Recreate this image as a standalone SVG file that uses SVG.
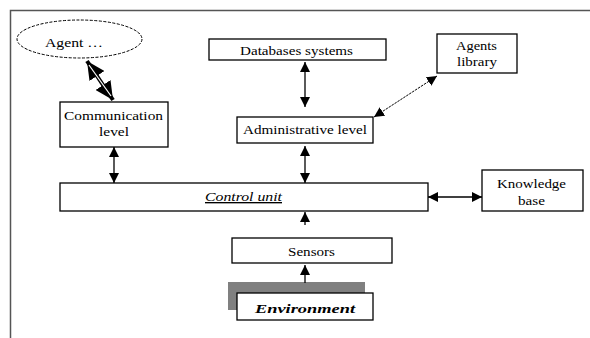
<svg xmlns="http://www.w3.org/2000/svg" width="590" height="338" viewBox="0 0 590 338">
<style>
.box{fill:#fff;stroke:#000;stroke-width:1.3}
.t{font-family:"Liberation Serif","Times New Roman",serif;font-size:13.5px;fill:#000;text-anchor:middle}
.c{stroke:#000;stroke-width:1.3;fill:none}
</style>
<defs>
<marker id="ah" viewBox="0 0 10 10" refX="10" refY="5" markerWidth="10" markerHeight="10" markerUnits="userSpaceOnUse" orient="auto-start-reverse">
<path d="M0,0 L10,5 L0,10 Z" fill="#000"/>
</marker>
<marker id="big" viewBox="0 0 10 10" refX="10" refY="5" markerWidth="18" markerHeight="18" markerUnits="userSpaceOnUse" orient="auto-start-reverse">
<path d="M0,0 L10,5 L0,10 Z" fill="#000"/>
</marker>
</defs>
<rect width="590" height="338" fill="#fff"/>
<path d="M10.5,338 V10.5 H590" fill="none" stroke="#555" stroke-width="1.5"/>

<g id="agent">
<ellipse cx="79.5" cy="39" rx="62.5" ry="19" fill="#fff" stroke="#000" stroke-width="1" stroke-dasharray="3,1.5"/>
<text class="t" x="74" y="47" textLength="58" lengthAdjust="spacingAndGlyphs">Agent …</text>
</g>
<g id="communication">
<rect class="box" x="60" y="102" width="108" height="45"/>
<text class="t" x="113.5" y="120" textLength="99" lengthAdjust="spacingAndGlyphs">Communication</text>
<text class="t" x="114" y="136" textLength="30" lengthAdjust="spacingAndGlyphs">level</text>
</g>
<g id="databases">
<rect class="box" x="209" y="39" width="177" height="21"/>
<text class="t" x="296.5" y="55" textLength="113" lengthAdjust="spacingAndGlyphs">Databases systems</text>
</g>
<g id="agents-library">
<rect class="box" x="437" y="34" width="80" height="39"/>
<text class="t" x="476.5" y="50" textLength="41" lengthAdjust="spacingAndGlyphs">Agents</text>
<text class="t" x="477" y="66" textLength="40" lengthAdjust="spacingAndGlyphs">library</text>
</g>
<g id="administrative">
<rect class="box" x="237" y="117" width="136" height="26"/>
<text class="t" x="305" y="134" textLength="124" lengthAdjust="spacingAndGlyphs">Administrative level</text>
</g>
<g id="control">
<rect class="box" x="60" y="183" width="368" height="28"/>
<text class="t" x="243.5" y="201" font-style="italic" text-decoration="underline" textLength="77" lengthAdjust="spacingAndGlyphs">Control unit</text>
</g>
<g id="knowledge">
<rect class="box" x="482" y="170" width="101" height="41"/>
<text class="t" x="531.5" y="188" textLength="69" lengthAdjust="spacingAndGlyphs">Knowledge</text>
<text class="t" x="531.5" y="205" textLength="27" lengthAdjust="spacingAndGlyphs">base</text>
</g>
<g id="sensors">
<rect class="box" x="232" y="238" width="160" height="25"/>
<text class="t" x="311.5" y="256" textLength="47" lengthAdjust="spacingAndGlyphs">Sensors</text>
</g>
<g id="environment">
<rect x="228" y="282" width="137" height="28" fill="#808080"/>
<rect class="box" x="237" y="293" width="136" height="27"/>
<text class="t" x="305" y="313" font-weight="bold" font-style="italic" font-size="18" textLength="100" lengthAdjust="spacingAndGlyphs">Environment</text>
</g>

<g id="connectors">
<line x1="87" y1="61" x2="113" y2="100" stroke="#000" stroke-width="4" marker-start="url(#big)" marker-end="url(#big)"/>
<line x1="89" y1="65" x2="111" y2="96" stroke="#fff" stroke-width="1.2"/>
<line class="c" x1="114" y1="147" x2="114" y2="183" marker-start="url(#ah)" marker-end="url(#ah)"/>
<line class="c" x1="305" y1="62" x2="305" y2="107" marker-start="url(#ah)" marker-end="url(#ah)"/>
<line class="c" x1="305" y1="146" x2="305" y2="183" marker-start="url(#ah)" marker-end="url(#ah)"/>
<line x1="374" y1="117" x2="437" y2="76" stroke="#000" stroke-width="1" stroke-dasharray="2.5,1" marker-start="url(#ah)" marker-end="url(#ah)"/>
<line class="c" x1="428" y1="197" x2="482" y2="197" marker-start="url(#ah)" marker-end="url(#ah)"/>
<line class="c" x1="305" y1="225" x2="305" y2="212" marker-end="url(#ah)"/>
<line class="c" x1="305" y1="283" x2="305" y2="265" marker-end="url(#ah)"/>
</g>
</svg>
